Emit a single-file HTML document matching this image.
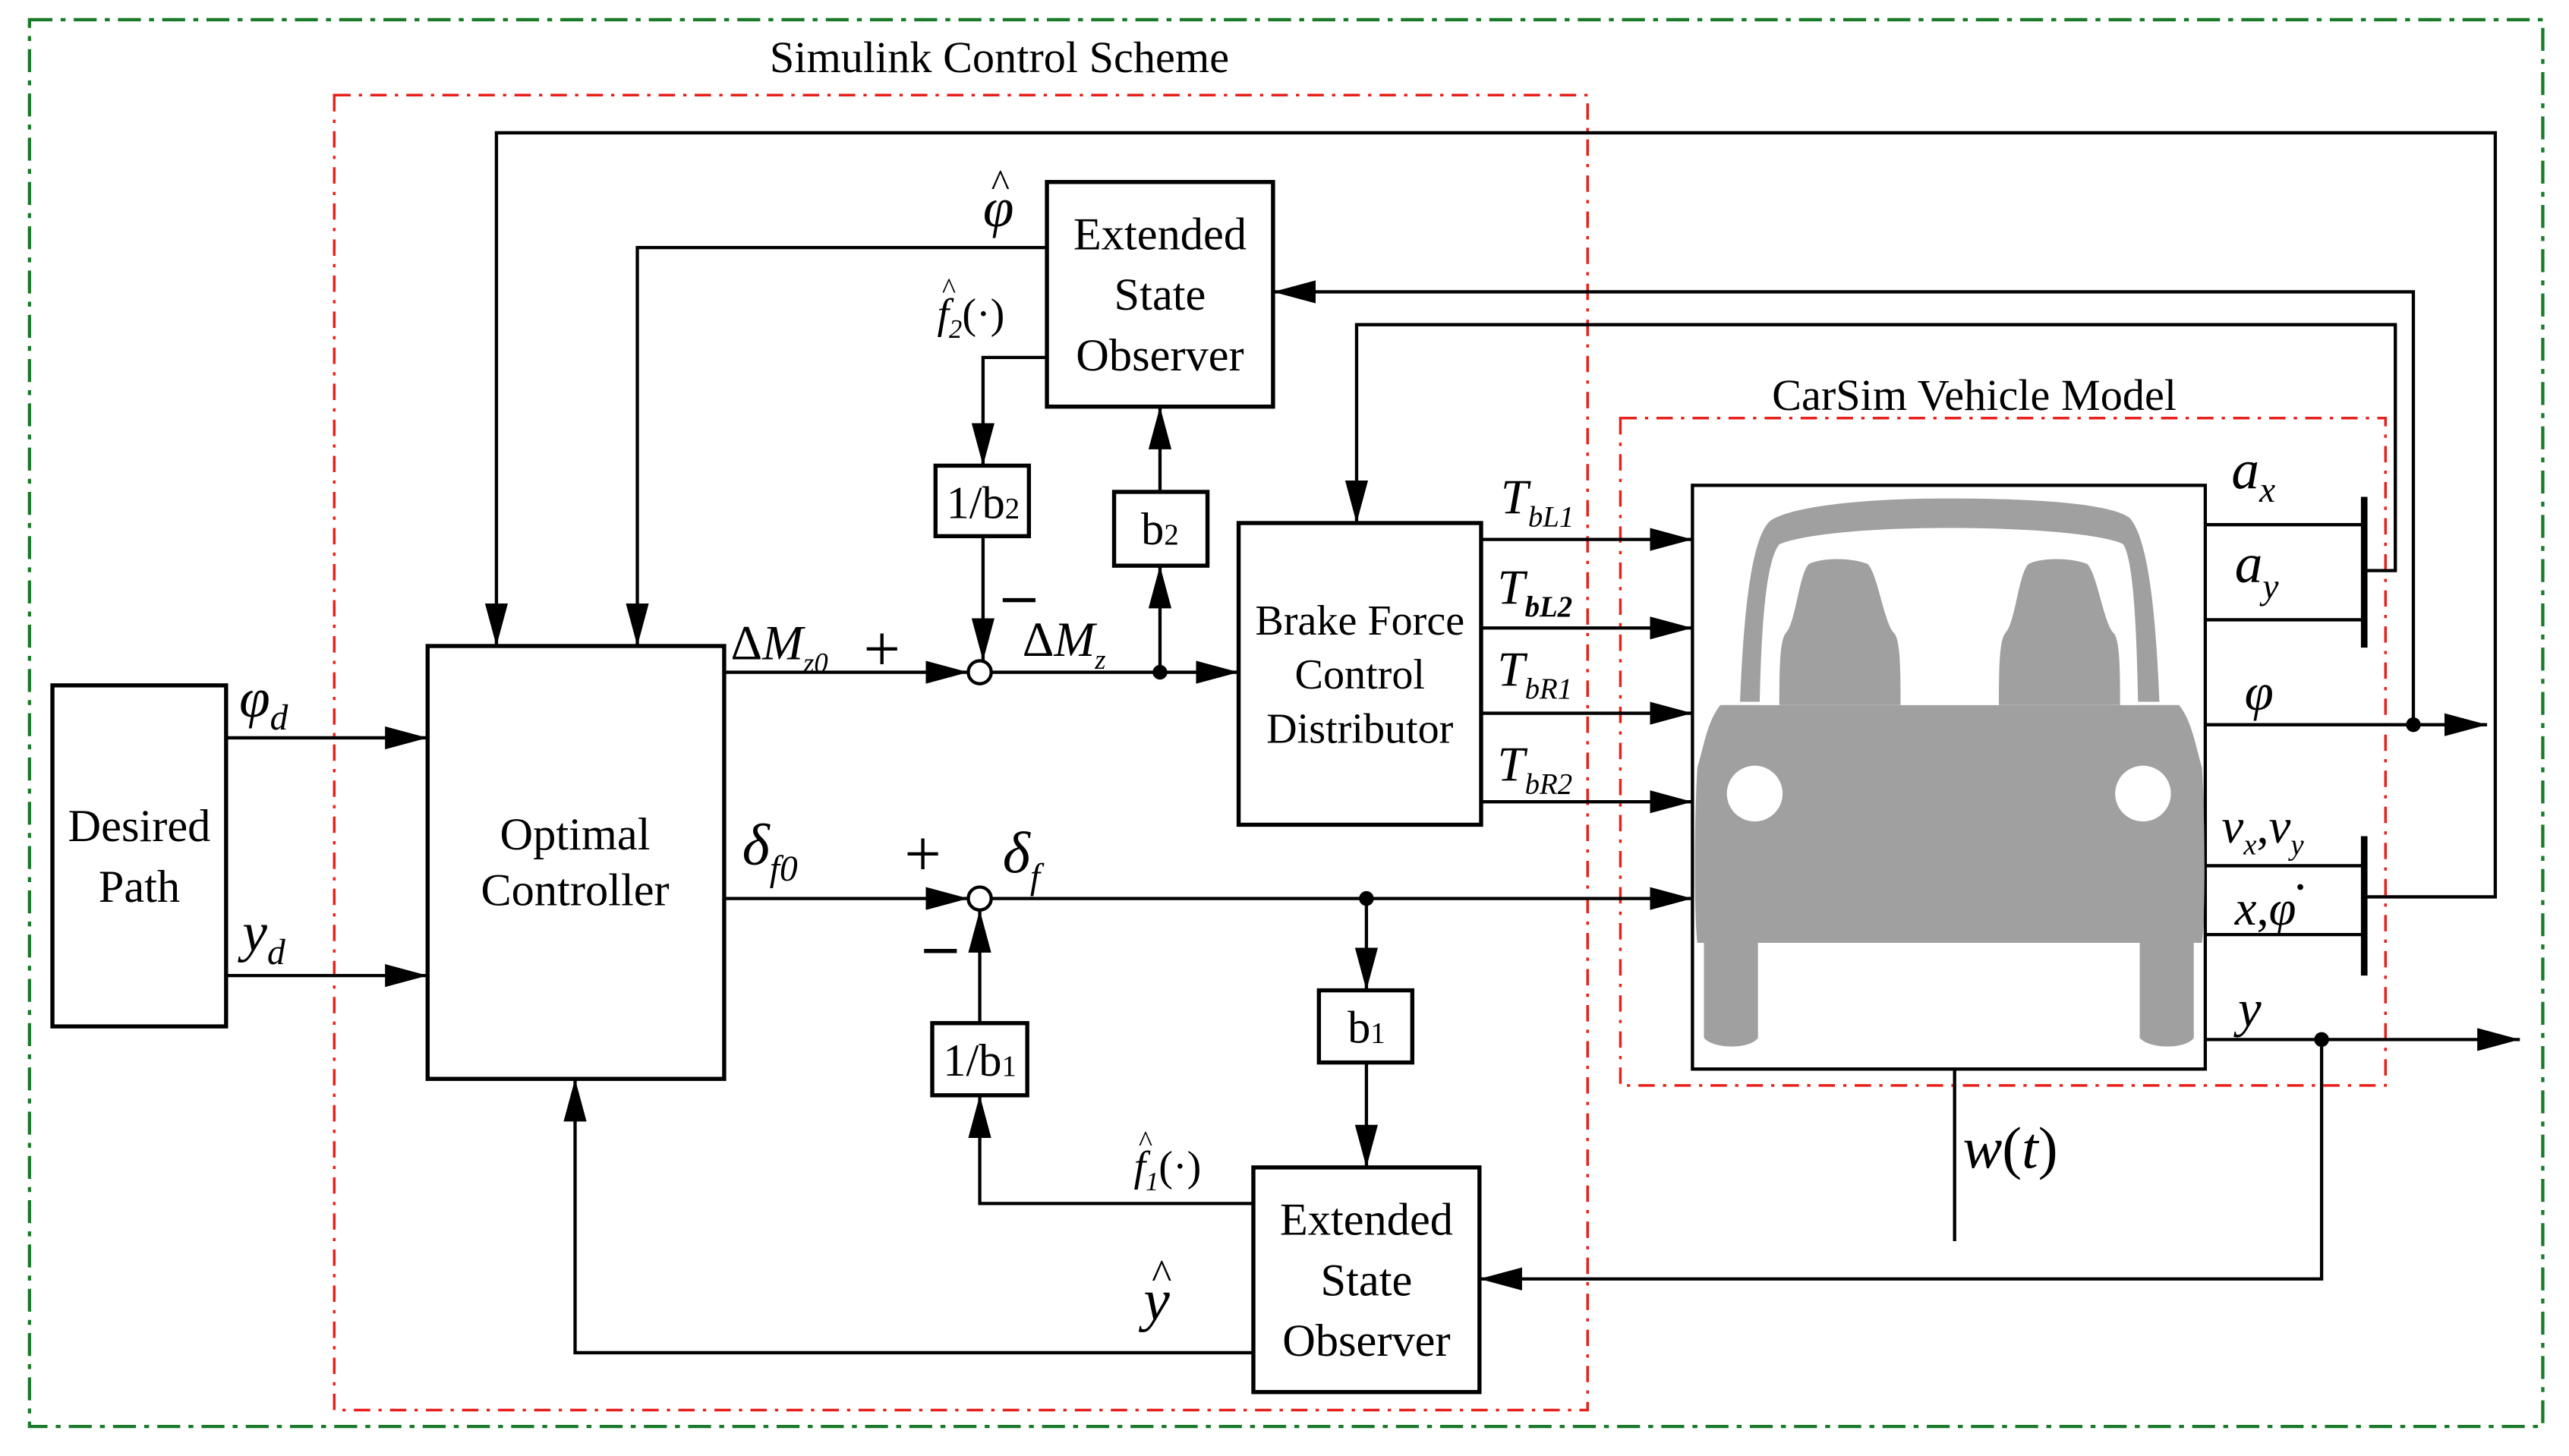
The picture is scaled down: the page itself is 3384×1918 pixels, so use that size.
<!DOCTYPE html>
<html><head><meta charset="utf-8"><style>
html,body{margin:0;padding:0;background:#fff;}
svg{display:block;}
text{font-family:"Liberation Serif",serif;fill:#000;}
.i{font-style:italic;}
</style></head><body>
<svg width="3384" height="1918" viewBox="0 0 1568 888" preserveAspectRatio="none" xmlns="http://www.w3.org/2000/svg">
<defs>
<marker id="a" markerWidth="26" markerHeight="14" refX="26" refY="7" orient="auto" markerUnits="userSpaceOnUse">
<path d="M0,0 L26,7 L0,14 Z" fill="#000"/></marker>
</defs>
<rect x="18" y="12" width="1534" height="858" fill="none" stroke="#1a7a2a" stroke-width="2" stroke-dasharray="14,5,3,5"/>
<rect x="204" y="58" width="765" height="802" fill="none" stroke="#e8201c" stroke-width="1.6" stroke-dasharray="10,5,2,5"/>
<rect x="989" y="255" width="467" height="407" fill="none" stroke="#e8201c" stroke-width="1.6" stroke-dasharray="10,5,2,5"/>
<text x="610" y="44" font-size="27" text-anchor="middle">Simulink Control Scheme</text>
<text x="1205" y="250" font-size="27" text-anchor="middle">CarSim Vehicle Model</text>

<g fill="none" stroke="#000" stroke-width="2.5">
<rect x="32" y="418" width="106" height="208"/>
<rect x="261" y="394" width="181" height="264"/>
<rect x="639" y="111" width="138" height="137"/>
<rect x="571" y="284" width="57" height="43"/>
<rect x="680" y="300" width="57" height="45"/>
<rect x="756" y="319" width="148" height="184"/>
<rect x="1033" y="296" width="313" height="356" stroke-width="2"/>
<rect x="805" y="604" width="57" height="44"/>
<rect x="569" y="624" width="58" height="44"/>
<rect x="765" y="712" width="138" height="137"/>
</g>

<g fill="#a0a0a0">
<path d="M1062,428 C1064,380 1068,330 1080,318 C1090,310 1130,304 1190,304 C1250,304 1290,308 1300,316 C1312,330 1316,380 1318,428 Z"/>
<path d="M1050,430 L1330,430 C1338,440 1340,455 1344,468 C1346,500 1346,560 1344,575 L1036,575 C1034,560 1034,500 1036,468 C1040,455 1042,440 1050,430 Z"/>
<path d="M1040,575 L1073,575 L1073,633 C1068,640 1046,640 1040,633 Z"/>
<path d="M1306,575 L1339,575 L1339,633 C1334,640 1312,640 1306,633 Z"/>
</g>
<g fill="#fff">
<path d="M1074,430 C1075,380 1078,342 1086,332 C1100,326 1140,322 1190,322 C1240,322 1285,326 1296,332 C1302,342 1304,380 1305,430 Z"/>
<circle cx="1071" cy="484" r="17"/><circle cx="1308" cy="484" r="17"/>
</g>
<g fill="#a0a0a0">
<path d="M1086,430 C1086,400 1087,390 1090,386 C1096,380 1098,350 1104,344 C1112,340 1130,340 1140,344 C1146,350 1150,380 1156,386 C1160,390 1160,410 1160,430 Z"/>
<path d="M1220,430 C1220,400 1221,390 1224,386 C1230,380 1232,350 1238,344 C1246,340 1264,340 1274,344 C1280,350 1284,380 1290,386 C1294,390 1294,410 1294,430 Z"/>
</g>

<g fill="none" stroke="#000" stroke-width="2">
<line x1="138" y1="450" x2="261" y2="450" marker-end="url(#a)"/>
<line x1="138" y1="595" x2="261" y2="595" marker-end="url(#a)"/>
<polyline points="1443,547 1523,547 1523,81 303,81 303,394" marker-end="url(#a)"/>
<polyline points="639,151 389,151 389,394" marker-end="url(#a)"/>
<polyline points="1443,348 1462,348 1462,198 828,198 828,319" marker-end="url(#a)"/>
<polyline points="1473,442 1473,178 777,178" marker-end="url(#a)"/>
<line x1="1346" y1="442" x2="1518" y2="442" marker-end="url(#a)"/>
<line x1="1346" y1="634" x2="1538" y2="634" marker-end="url(#a)"/>
<polyline points="1417,634 1417,780 903,780" marker-end="url(#a)"/>
<polyline points="639,218 600,218 600,284" marker-end="url(#a)"/>
<line x1="600" y1="327" x2="600" y2="403" marker-end="url(#a)"/>
<line x1="442" y1="410" x2="591" y2="410" marker-end="url(#a)"/>
<line x1="605" y1="410" x2="756" y2="410" marker-end="url(#a)"/>
<line x1="708" y1="410" x2="708" y2="345" marker-end="url(#a)"/>
<line x1="708" y1="300" x2="708" y2="248" marker-end="url(#a)"/>
<line x1="904" y1="329" x2="1033" y2="329" marker-end="url(#a)"/>
<line x1="904" y1="383" x2="1033" y2="383" marker-end="url(#a)"/>
<line x1="904" y1="435" x2="1033" y2="435" marker-end="url(#a)"/>
<line x1="904" y1="489" x2="1033" y2="489" marker-end="url(#a)"/>
<line x1="442" y1="548" x2="591" y2="548" marker-end="url(#a)"/>
<line x1="605" y1="548" x2="1033" y2="548" marker-end="url(#a)"/>
<line x1="834" y1="548" x2="834" y2="604" marker-end="url(#a)"/>
<line x1="834" y1="648" x2="834" y2="712" marker-end="url(#a)"/>
<polyline points="765,734 598,734 598,668" marker-end="url(#a)"/>
<line x1="598" y1="624" x2="598" y2="555" marker-end="url(#a)"/>
<polyline points="765,825 351,825 351,658" marker-end="url(#a)"/>
<line x1="1346" y1="320" x2="1443" y2="320"/>
<line x1="1346" y1="378" x2="1443" y2="378"/>
<line x1="1346" y1="528" x2="1443" y2="528"/>
<line x1="1346" y1="570" x2="1443" y2="570"/>
<line x1="1193" y1="652" x2="1193" y2="757"/>
<circle cx="598" cy="410" r="7" fill="#fff"/>
<circle cx="598" cy="548" r="7" fill="#fff"/>
</g>
<line x1="1443" y1="303" x2="1443" y2="395" stroke="#000" stroke-width="4"/>
<line x1="1443" y1="510" x2="1443" y2="595" stroke="#000" stroke-width="4"/>
<g fill="#000">
<circle cx="708" cy="410" r="4.5"/><circle cx="834" cy="548" r="4.5"/>
<circle cx="1473" cy="442" r="4.5"/><circle cx="1417" cy="634" r="4.5"/>
</g>

<g font-size="28" text-anchor="middle">
<text x="85" y="513">Desired</text><text x="85" y="550">Path</text>
<text x="351" y="518">Optimal</text><text x="351" y="552">Controller</text>
<text x="708" y="152">Extended</text><text x="708" y="189">State</text><text x="708" y="226">Observer</text>
<text x="834" y="753">Extended</text><text x="834" y="790">State</text><text x="834" y="827">Observer</text>
<text x="830" y="387" font-size="26">Brake Force</text><text x="830" y="420" font-size="26">Control</text><text x="830" y="453" font-size="26">Distributor</text>
<text x="600" y="316">1/b<tspan font-size="18">2</tspan></text>
<text x="708" y="332">b<tspan font-size="18">2</tspan></text>
<text x="834" y="636">b<tspan font-size="18">1</tspan></text>
<text x="598" y="656">1/b<tspan font-size="18">1</tspan></text>
</g>

<g>
<text x="146" y="437" font-size="34" class="i">φ<tspan font-size="22" dy="8">d</tspan></text>
<text x="148" y="580" font-size="34" class="i">y<tspan font-size="22" dy="8">d</tspan></text>
<text x="600" y="138" font-size="34" class="i">φ</text>
<text x="605" y="120" font-size="24">^</text>
<text x="572" y="200" font-size="26" class="i">f<tspan font-size="16" dy="6">2</tspan><tspan dy="-6" font-style="normal">(·)</tspan></text>
<text x="575" y="182" font-size="18">^</text>
<text x="446" y="402" font-size="30"><tspan>Δ</tspan><tspan class="i">M</tspan><tspan font-size="17" dy="8" class="i">z0</tspan></text>
<text x="624" y="400" font-size="30"><tspan>Δ</tspan><tspan class="i">M</tspan><tspan font-size="17" dy="8" class="i">z</tspan></text>
<text x="453" y="527" font-size="36" class="i">δ<tspan font-size="22" dy="10">f0</tspan></text>
<text x="612" y="532" font-size="36" class="i">δ<tspan font-size="22" dy="10">f</tspan></text>
<text x="692" y="720" font-size="26" class="i">f<tspan font-size="16" dy="6">1</tspan><tspan dy="-6" font-style="normal">(·)</tspan></text>
<text x="695" y="702" font-size="18">^</text>
<text x="698" y="805" font-size="36" class="i">y</text>
<text x="703" y="786" font-size="26">^</text>
<text x="916" y="313" font-size="30" class="i">T<tspan font-size="18" dy="8">bL1</tspan></text>
<text x="914" y="368" font-size="30" class="i">T<tspan font-size="18" dy="8" font-weight="bold">bL2</tspan></text>
<text x="914" y="418" font-size="30" class="i">T<tspan font-size="18" dy="8">bR1</tspan></text>
<text x="914" y="476" font-size="30" class="i">T<tspan font-size="18" dy="8">bR2</tspan></text>
<text x="1362" y="298" font-size="34" class="i">a<tspan font-size="22" dy="8">x</tspan></text>
<text x="1364" y="355" font-size="34" class="i">a<tspan font-size="22" dy="10">y</tspan></text>
<text x="1370" y="433" font-size="32" class="i">φ</text>
<text x="1356" y="514" font-size="30" class="i">v<tspan font-size="18" dy="7">x</tspan><tspan dy="-7" font-style="normal">,</tspan>v<tspan font-size="18" dy="7">y</tspan></text>
<text x="1364" y="564" font-size="30" class="i">x<tspan font-style="normal">,</tspan>φ</text>
<circle cx="1404" cy="541" r="1.8" fill="#000"/>
<text x="1366" y="626" font-size="32" class="i">y</text>
<text x="1198" y="712" font-size="36" class="i">w<tspan font-style="normal">(</tspan>t<tspan font-style="normal">)</tspan></text>
</g>
<g font-size="40">
<text x="527" y="409">+</text>
<text x="552" y="534">+</text>
</g>
<line x1="612" y1="366" x2="632" y2="366" stroke="#000" stroke-width="2.5"/>
<line x1="564" y1="580" x2="584" y2="580" stroke="#000" stroke-width="2.5"/>
</svg>
</body></html>
